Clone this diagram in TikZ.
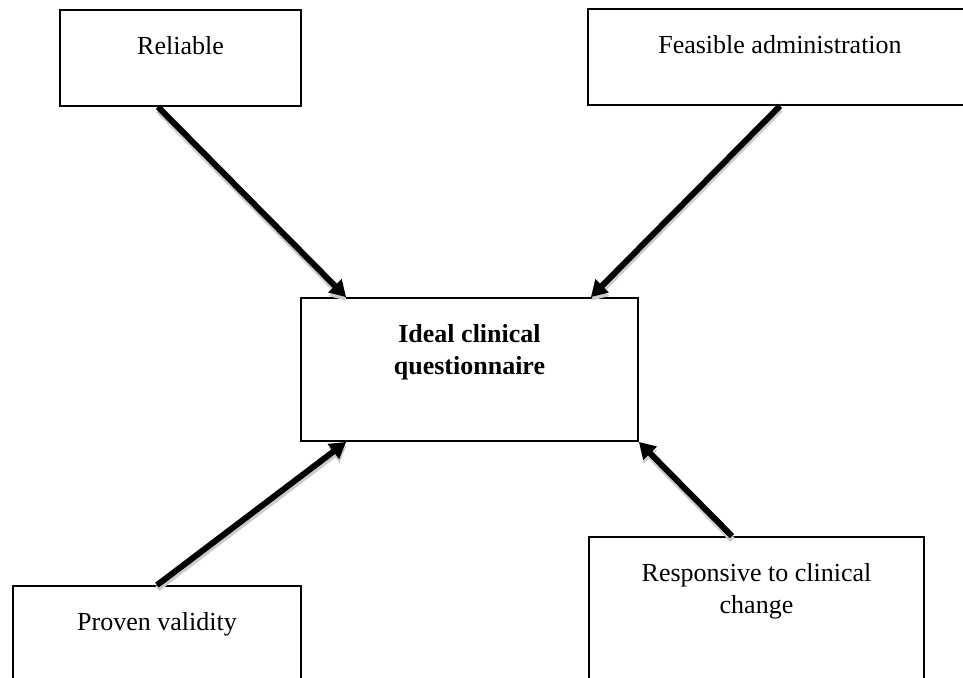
\documentclass[tikz,border=0pt]{standalone}
\usepackage{fontspec}
\setmainfont{Liberation Serif}
\usetikzlibrary{arrows.meta}

\begin{document}
\begin{tikzpicture}[x=0.5pt,y=-0.5pt,
    box/.style={draw,line width=0.9pt,rectangle,inner sep=0pt},
    boxtext/.style={anchor=north,inner sep=0pt,align=center,
      font=\fontsize{13pt}{16pt}\selectfont},
    fat/.style={line width=3pt,-{Triangle[length=8pt,width=9pt]}},
    fatshadow/.style={fat,gray!40,transform canvas={xshift=0.2pt,yshift=-1.8pt}}]

  % page frame, the outer boxes run off its edge
  \useasboundingbox (0,0) rectangle (963,677);
  \clip (0,0) rectangle (963,677);

  % the four boxes round the middle one
  \node[box,minimum width=120.5pt,minimum height=48pt] (rel) at (180.5,58) {};
  \node[boxtext] (reltext) at ([yshift=-13.6pt]rel.north) {Reliable};

  \node[box,minimum width=192pt,minimum height=48pt] (feas) at (780,57) {};
  \node[boxtext] (feastext) at ([yshift=-13.6pt]feas.north) {Feasible administration};

  \node[box,minimum width=144pt,minimum height=48pt] (prov) at (157,634) {};
  \node[boxtext] (provtext) at ([yshift=-13.6pt]prov.north) {Proven validity};

  \node[box,minimum width=167.5pt,minimum height=75pt] (resp) at (756.5,612) {};
  \node[boxtext] (resptext) at ([yshift=-13.6pt]resp.north) {Responsive to clinical\\change};

  % the middle box
  \node[box,minimum width=168.5pt,minimum height=71.5pt] (ideal) at (469.5,369.5) {};
  \node[boxtext,font=\fontsize{13pt}{16pt}\selectfont\bfseries] (idealtext)
    at ([yshift=-13.6pt]ideal.north) {Ideal clinical\\questionnaire};

  % arrows, grey copy first as a shadow
  \draw[fatshadow] ([xshift=-11.25pt]rel.south) -- ([xshift=23pt]ideal.north west);
  \draw[fat] ([xshift=-11.25pt]rel.south) -- ([xshift=23pt]ideal.north west);

  \draw[fatshadow] (feas.south) -- ([xshift=-24pt]ideal.north east);
  \draw[fat] (feas.south) -- ([xshift=-24pt]ideal.north east);

  \draw[fatshadow] (prov.north) -- ([xshift=23pt]ideal.south west);
  \draw[fat] (prov.north) -- ([xshift=23pt]ideal.south west);

  \draw[fatshadow] ([xshift=-12.25pt]resp.north) -- (ideal.south east);
  \draw[fat] ([xshift=-12.25pt]resp.north) -- (ideal.south east);

\end{tikzpicture}
\end{document}
